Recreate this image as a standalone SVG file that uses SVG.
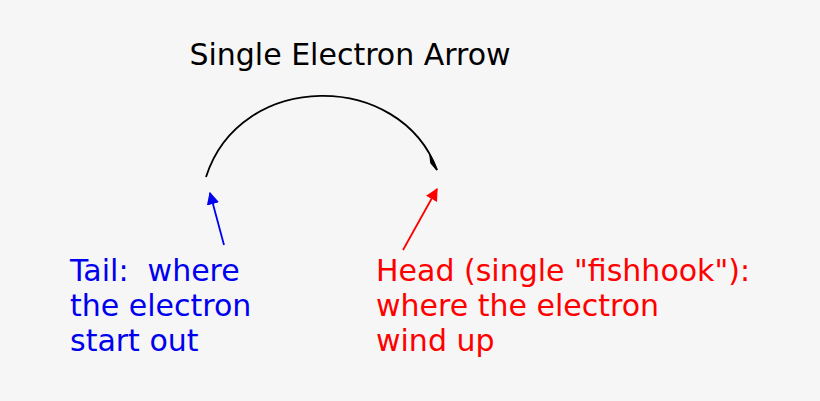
<svg xmlns="http://www.w3.org/2000/svg" width="820" height="401" viewBox="0 0 820 401">
<defs>
<style>
text{font-family:"DejaVu Sans",sans-serif;font-size:30px;white-space:pre}
.b{fill:#0000ee}.r{fill:#ff0000}
</style>
<marker id="ab" viewBox="0 0 10 10" refX="9" refY="5" markerWidth="7" markerHeight="7" orient="auto"><path d="M0,0L10,5L0,10z" fill="#0000ee"/></marker>
<marker id="ar" viewBox="0 0 10 10" refX="9" refY="5" markerWidth="7" markerHeight="7" orient="auto"><path d="M0,0L10,5L0,10z" fill="#ff0000"/></marker>
</defs>
<rect width="820" height="401" fill="#f6f6f6"/>
<g id="title"><text x="350" y="65" text-anchor="middle">Single Electron Arrow</text></g>
<g id="connectors">
<path d="M206,177 C240,70 400,70 437,170" fill="none" stroke="#000" stroke-width="1.8"/>
<path d="M437,170 L430,155 L431,163 Z" fill="#000" stroke="#000" stroke-width="1.5"/>
<line x1="224" y1="245" x2="210" y2="193" stroke="#0000ee" stroke-width="1.8" marker-end="url(#ab)"/>
<line x1="403" y1="250" x2="437" y2="189" stroke="#ff0000" stroke-width="1.8" marker-end="url(#ar)"/>
</g>
<g id="tail"><text class="b"><tspan x="70" y="281">Tail:  where</tspan><tspan x="70" y="316">the electron</tspan><tspan x="70" y="351">start out</tspan></text></g>
<g id="head"><text class="r"><tspan x="376" y="281">Head (single "fishhook"):</tspan><tspan x="376" y="316">where the electron</tspan><tspan x="376" y="351">wind up</tspan></text></g>
</svg>
